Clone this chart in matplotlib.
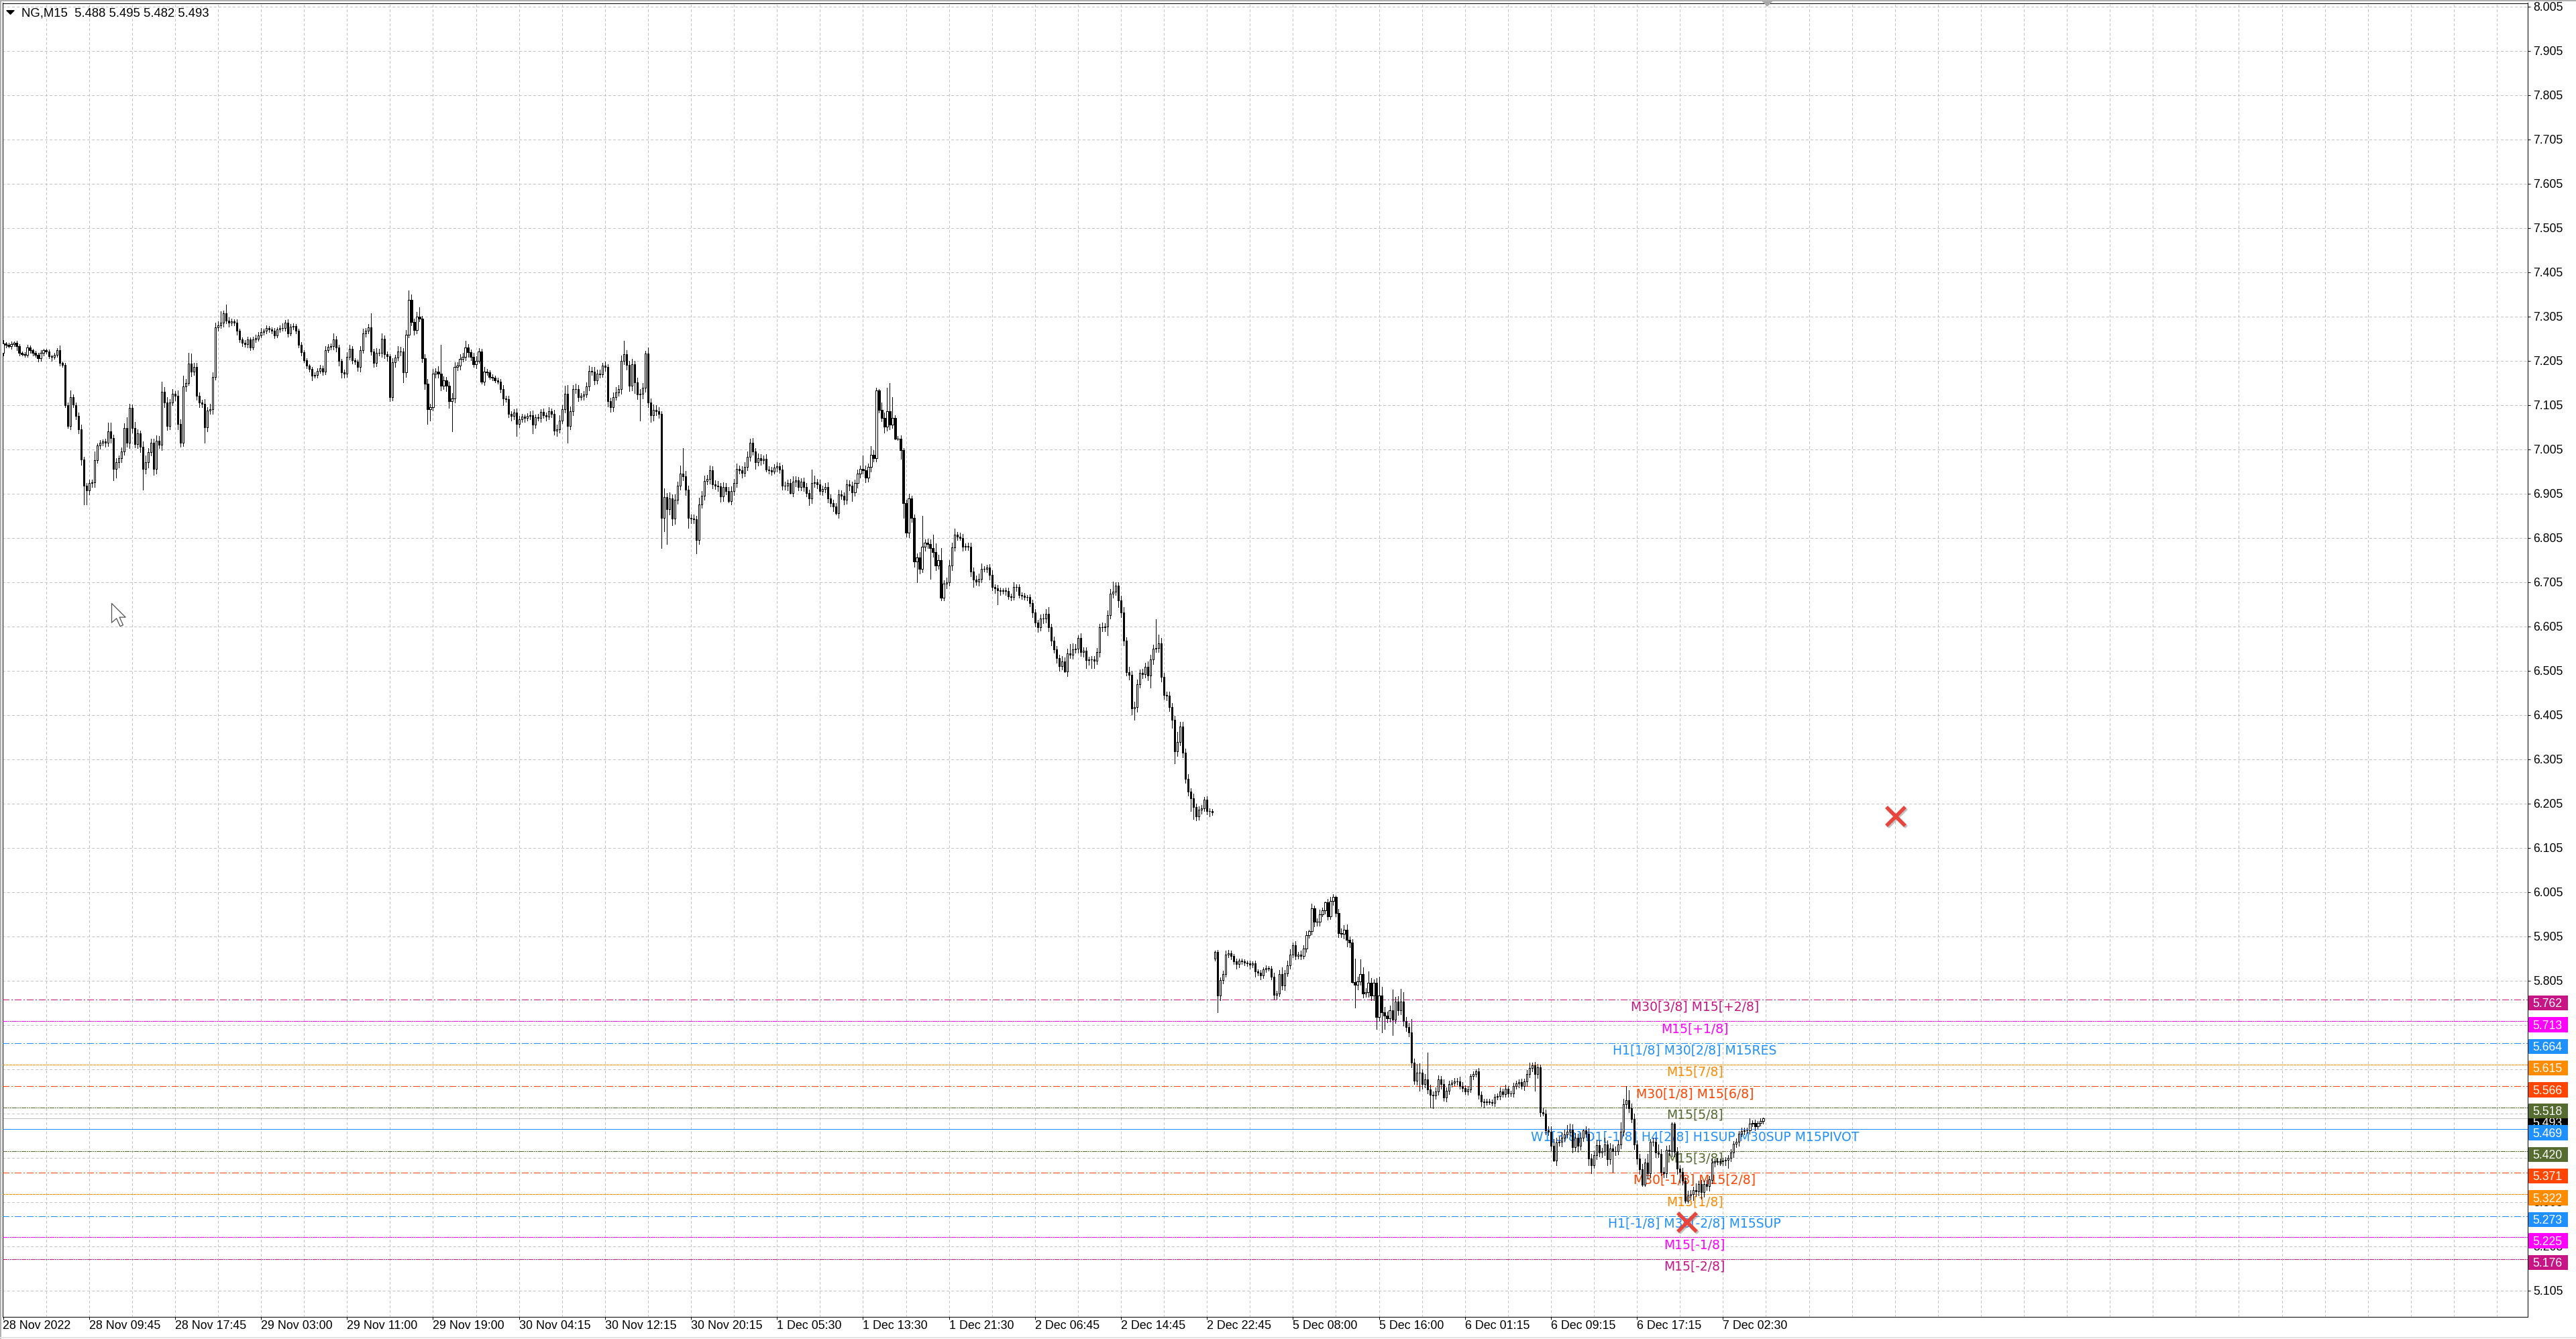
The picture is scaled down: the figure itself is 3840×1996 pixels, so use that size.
import numpy as np
import matplotlib
matplotlib.use("Agg")
import matplotlib.pyplot as plt
import matplotlib.transforms as mtransforms
from matplotlib.patches import Rectangle
from matplotlib.lines import Line2D
from matplotlib.path import Path

plt.rcParams['lines.scale_dashes'] = False
plt.rcParams['font.family'] = ['Liberation Sans', 'DejaVu Sans']

# ---------------- data (NG, M15) ----------------
header = "NG,M15  5.488 5.495 5.482 5.493"

# close of every 15 minute bar, in thousandths
close_mils = [
    7243, 7240, 7238, 7242, 7245, 7237, 7222, 7220, 7218, 7235,
    7228, 7222, 7218, 7210, 7222, 7228, 7225, 7215, 7213, 7218,
    7228, 7200, 7195, 7105, 7058, 7123, 7105, 7080, 7050, 6982,
    6923, 6912, 6928, 6930, 6980, 7014, 7020, 7022, 7020, 7045,
    7030, 6960, 6975, 6985, 7000, 7052, 7020, 7098, 7052, 7017,
    7040, 7010, 6960, 6975, 6998, 7020, 6960, 7024, 7015, 7135,
    7110, 7058, 7110, 7130, 7125, 7062, 7020, 7146, 7155, 7198,
    7180, 7190, 7125, 7110, 7108, 7055, 7092, 7095, 7168, 7280,
    7285, 7290, 7312, 7295, 7290, 7293, 7290, 7272, 7252, 7245,
    7242, 7252, 7235, 7253, 7255, 7262, 7270, 7272, 7278, 7275,
    7272, 7262, 7275, 7278, 7279, 7290, 7267, 7282, 7283, 7272,
    7240, 7224, 7206, 7193, 7186, 7171, 7172, 7182, 7188, 7180,
    7229, 7236, 7238, 7252, 7234, 7204, 7178, 7176, 7214, 7232,
    7206, 7202, 7190, 7229, 7267, 7272, 7280, 7226, 7200, 7223,
    7222, 7254, 7219, 7215, 7123, 7201, 7212, 7226, 7225, 7178,
    7264, 7342, 7292, 7274, 7305, 7300, 7211, 7153, 7095, 7100,
    7176, 7180, 7175, 7148, 7160, 7148, 7113, 7120, 7191, 7193,
    7209, 7214, 7234, 7224, 7214, 7196, 7205, 7225, 7158, 7180,
    7178, 7168, 7166, 7161, 7158, 7141, 7120, 7118, 7085, 7080,
    7087, 7062, 7072, 7078, 7075, 7080, 7082, 7060, 7077, 7075,
    7089, 7082, 7078, 7091, 7085, 7047, 7050, 7070, 7095, 7130,
    7057, 7091, 7141, 7140, 7123, 7125, 7128, 7146, 7182, 7180,
    7161, 7176, 7174, 7194, 7190, 7113, 7099, 7123, 7133, 7140,
    7205, 7219, 7195, 7148, 7197, 7156, 7128, 7130, 7143, 7221,
    7110, 7082, 7094, 7091, 7085, 6849, 6896, 6870, 6893, 6848,
    6891, 6922, 6950, 6944, 6913, 6850, 6848, 6846, 6800, 6880,
    6900, 6933, 6937, 6958, 6926, 6923, 6921, 6898, 6920, 6910,
    6888, 6911, 6928, 6960, 6958, 6951, 6965, 6988, 7020, 7000,
    6976, 6985, 6980, 6983, 6959, 6957, 6955, 6963, 6966, 6959,
    6923, 6922, 6928, 6906, 6931, 6934, 6920, 6931, 6920, 6906,
    6893, 6928, 6930, 6926, 6911, 6915, 6920, 6894, 6883, 6875,
    6860, 6902, 6900, 6890, 6926, 6922, 6908, 6928, 6949, 6960,
    6958, 6940, 6965, 6992, 6985, 7137, 7093, 7076, 7056, 7090,
    7060, 7076, 7029, 7028, 7002, 6883, 6816, 6893, 6849, 6751,
    6760, 6735, 6785, 6793, 6791, 6782, 6772, 6742, 6755, 6670,
    6701, 6705, 6742, 6783, 6812, 6808, 6805, 6785, 6786, 6785,
    6728, 6711, 6706, 6712, 6735, 6735, 6737, 6721, 6694, 6690,
    6686, 6684, 6686, 6684, 6672, 6671, 6694, 6693, 6676, 6674,
    6671, 6671, 6657, 6636, 6614, 6603, 6623, 6622, 6633, 6603,
    6572, 6553, 6533, 6515, 6526, 6503, 6544, 6541, 6553, 6555,
    6579, 6546, 6549, 6528, 6530, 6530, 6527, 6546, 6603, 6602,
    6604, 6630, 6679, 6683, 6697, 6664, 6636, 6572, 6501, 6495,
    6420, 6422, 6474, 6499, 6497, 6513, 6493, 6530, 6555, 6556,
    6567, 6490, 6449, 6448, 6423, 6393, 6322, 6344, 6379, 6319,
    6261, 6231, 6217, 6197, 6176, 6190, 6193, 6213, 6188, 6187,
    6185, 5869, 5771, 5806, 5819, 5864, 5866, 5860, 5848, 5842,
    5849, 5848, 5845, 5843, 5840, 5843, 5825, 5822, 5816, 5830,
    5833, 5832, 5814, 5772, 5775, 5819, 5793, 5821, 5839, 5863,
    5884, 5860, 5864, 5860, 5877, 5907, 5917, 5968, 5937, 5937,
    5955, 5964, 5981, 5950, 5984, 5993, 5958, 5912, 5910, 5920,
    5897, 5890, 5801, 5795, 5803, 5820, 5776, 5778, 5800, 5771,
    5800, 5722, 5771, 5733, 5725, 5720, 5738, 5717, 5758, 5737,
    5758, 5713, 5699, 5688, 5619, 5579, 5597, 5596, 5571, 5582,
    5559, 5546, 5545, 5554, 5581, 5571, 5541, 5556, 5571, 5574,
    5577, 5577, 5567, 5562, 5554, 5559, 5589, 5594, 5599, 5546,
    5531, 5530, 5532, 5530, 5529, 5542, 5544, 5555, 5548, 5561,
    5550, 5550, 5566, 5572, 5575, 5566, 5577, 5594, 5607, 5614,
    5594, 5609, 5508, 5505, 5466, 5464, 5431, 5398, 5439, 5440,
    5450, 5458, 5464, 5468, 5429, 5449, 5432, 5450, 5466, 5459,
    5403, 5388, 5411, 5433, 5416, 5419, 5434, 5401, 5426, 5420,
    5420, 5434, 5464, 5525, 5535, 5517, 5492, 5434, 5403, 5378,
    5343, 5393, 5370, 5441, 5440, 5416, 5414, 5373, 5370, 5423,
    5420, 5481, 5418, 5380, 5372, 5353, 5307, 5320, 5323, 5331,
    5328, 5345, 5327, 5345, 5340, 5355, 5393, 5397, 5395, 5396,
    5398, 5400, 5404, 5416, 5436, 5440, 5459, 5465, 5466, 5467,
    5482, 5483, 5475, 5483, 5488, 5493,
]

# wick above / below the body of every bar, in thousandths
upper_wick = [
    8, 4, 5, 6, 3, 4, 5, 3, 4, 6,
    4, 3, 5, 4, 6, 3, 4, 5, 3, 4,
    5, 11, 3, 4, 6, 15, 5, 6, 8, 10,
    6, 5, 8, 6, 19, 4, 6, 5, 7, 20,
    20, 8, 10, 6, 9, 12, 25, 10, 8, 14,
    10, 6, 12, 15, 10, 8, 9, 12, 10, 23,
    10, 12, 8, 10, 6, 12, 10, 25, 8, 24,
    23, 10, 10, 8, 6, 10, 8, 12, 10, 10,
    8, 27, 6, 20, 8, 6, 5, 8, 5, 6,
    6, 7, 5, 6, 8, 7, 8, 5, 6, 5,
    5, 6, 5, 7, 10, 6, 8, 5, 6, 4,
    5, 6, 4, 5, 4, 5, 6, 5, 7, 5,
    8, 6, 5, 15, 8, 6, 5, 6, 10, 8,
    6, 5, 6, 8, 10, 6, 8, 32, 6, 10,
    8, 12, 8, 6, 5, 10, 6, 12, 10, 8,
    10, 21, 13, 8, 10, 20, 6, 8, 10, 8,
    10, 8, 12, 66, 10, 8, 10, 12, 10, 8,
    10, 8, 15, 8, 6, 8, 10, 8, 6, 10,
    6, 5, 6, 5, 6, 6, 8, 6, 8, 6,
    8, 10, 8, 6, 5, 6, 8, 10, 6, 8,
    6, 8, 6, 8, 6, 8, 10, 12, 10, 18,
    20, 10, 8, 12, 10, 6, 8, 10, 12, 8,
    10, 8, 8, 6, 8, 7, 8, 10, 12, 10,
    12, 30, 10, 10, 12, 8, 10, 10, 12, 6,
    13, 10, 12, 10, 8, 5, 20, 10, 15, 10,
    12, 10, 18, 57, 12, 10, 8, 10, 8, 15,
    10, 12, 10, 10, 8, 8, 10, 8, 10, 8,
    10, 10, 10, 13, 8, 8, 10, 12, 8, 10,
    8, 10, 8, 8, 10, 8, 8, 8, 10, 8,
    10, 8, 8, 10, 12, 10, 8, 8, 10, 8,
    8, 31, 15, 8, 10, 8, 8, 10, 8, 8,
    8, 12, 10, 8, 10, 8, 10, 8, 10, 8,
    30, 10, 8, 20, 10, 7, 3, 17, 12, 54,
    65, 47, 6, 5, 8, 6, 8, 11, 6, 8,
    10, 12, 70, 8, 10, 10, 30, 20, 12, 26,
    8, 10, 12, 10, 14, 6, 8, 8, 6, 8,
    8, 10, 8, 12, 12, 6, 6, 8, 10, 6,
    8, 6, 5, 6, 8, 6, 10, 6, 6, 5,
    6, 5, 6, 8, 8, 6, 8, 10, 10, 15,
    8, 10, 8, 8, 12, 8, 10, 21, 14, 10,
    5, 10, 8, 8, 6, 8, 8, 10, 8, 10,
    8, 10, 10, 23, 8, 8, 10, 12, 8, 12,
    10, 12, 10, 8, 10, 10, 12, 10, 8, 65,
    19, 12, 10, 8, 10, 8, 10, 22, 10, 10,
    10, 10, 8, 10, 8, 8, 8, 6, 8, 6,
    5, 3, 5, 6, 8, 8, 8, 6, 5, 6,
    5, 6, 5, 5, 6, 5, 6, 5, 6, 5,
    6, 5, 6, 8, 6, 10, 15, 8, 10, 12,
    6, 10, 6, 8, 8, 10, 2, 10, 6, 8,
    10, 6, 2, 8, 9, 6, 3, 8, 10, 10,
    11, 8, 8, 53, 10, 32, 15, 10, 26, 10,
    8, 10, 43, 20, 12, 10, 10, 46, 10, 12,
    28, 20, 10, 10, 30, 10, 20, 21, 8, 12,
    60, 10, 8, 10, 10, 8, 10, 8, 8, 6,
    7, 8, 10, 8, 6, 8, 5, 6, 5, 8,
    8, 6, 6, 5, 6, 6, 5, 8, 6, 8,
    6, 6, 8, 6, 6, 8, 6, 8, 13, 5,
    7, 8, 6, 8, 8, 10, 12, 15, 10, 12,
    12, 10, 15, 14, 12, 12, 10, 12, 3, 10,
    12, 10, 10, 12, 10, 8, 15, 10, 12, 8,
    10, 10, 20, 12, 32, 22, 10, 12, 10, 10,
    12, 10, 20, 6, 8, 10, 18, 10, 10, 8,
    10, 3, 3, 10, 8, 10, 8, 10, 8, 8,
    15, 8, 10, 8, 10, 8, 10, 6, 8, 6,
    6, 6, 6, 8, 6, 8, 6, 8, 6, 6,
    11, 6, 8, 5, 5, 2,
]
lower_wick = [
    6, 5, 4, 6, 5, 8, 6, 4, 5, 4,
    5, 6, 4, 8, 5, 6, 4, 5, 8, 4,
    5, 6, 5, 5, 6, 8, 6, 8, 10, 12,
    43, 32, 10, 8, 10, 6, 8, 6, 10, 8,
    10, 25, 20, 12, 10, 8, 10, 12, 10, 8,
    10, 12, 47, 10, 12, 8, 14, 10, 8, 12,
    10, 10, 8, 6, 10, 12, 10, 8, 10, 6,
    10, 8, 8, 10, 8, 36, 10, 8, 10, 6,
    8, 6, 8, 6, 8, 5, 6, 8, 6, 8,
    6, 8, 6, 5, 6, 6, 5, 6, 5, 6,
    5, 6, 5, 6, 5, 6, 8, 5, 6, 5,
    6, 8, 5, 6, 6, 10, 5, 6, 5, 8,
    6, 5, 6, 8, 8, 10, 12, 10, 8, 6,
    8, 6, 8, 10, 6, 8, 6, 8, 10, 8,
    6, 8, 8, 10, 10, 8, 10, 6, 8, 22,
    10, 6, 8, 10, 8, 6, 10, 12, 33, 25,
    8, 10, 8, 10, 8, 12, 15, 68, 10, 8,
    8, 6, 8, 10, 8, 6, 8, 6, 5, 8,
    6, 5, 6, 5, 6, 8, 15, 6, 8, 10,
    8, 27, 8, 6, 8, 6, 8, 20, 8, 6,
    8, 6, 8, 6, 8, 10, 12, 8, 6, 8,
    38, 8, 10, 8, 10, 6, 8, 6, 8, 8,
    10, 8, 8, 6, 8, 12, 10, 8, 6, 8,
    10, 8, 10, 12, 10, 25, 10, 58, 10, 8,
    10, 15, 12, 10, 10, 67, 29, 80, 12, 15,
    12, 10, 8, 10, 12, 23, 10, 8, 31, 10,
    8, 10, 8, 10, 10, 8, 10, 12, 10, 8,
    4, 8, 10, 8, 8, 10, 8, 8, 10, 8,
    15, 8, 10, 8, 5, 8, 8, 6, 8, 8,
    10, 8, 10, 2, 8, 10, 8, 8, 10, 8,
    15, 10, 8, 10, 8, 10, 8, 10, 8, 10,
    2, 10, 8, 10, 8, 10, 20, 8, 10, 8,
    8, 10, 8, 10, 8, 8, 6, 8, 14, 10,
    10, 8, 2, 3, 19, 33, 8, 10, 8, 12,
    47, 11, 8, 10, 10, 70, 10, 10, 8, 7,
    7, 10, 8, 10, 8, 8, 6, 10, 8, 8,
    10, 18, 8, 10, 8, 6, 8, 10, 8, 10,
    31, 8, 6, 8, 5, 8, 6, 8, 6, 8,
    6, 8, 8, 10, 10, 11, 8, 10, 8, 10,
    10, 8, 10, 10, 8, 2, 11, 8, 10, 8,
    10, 8, 10, 18, 10, 20, 17, 8, 10, 8,
    8, 20, 8, 10, 8, 16, 10, 10, 8, 10,
    14, 27, 10, 8, 10, 8, 10, 26, 10, 8,
    10, 10, 8, 10, 10, 17, 27, 10, 8, 10,
    10, 8, 30, 27, 10, 8, 8, 6, 8, 12,
    6, 5, 38, 10, 8, 6, 6, 8, 6, 10,
    8, 6, 6, 5, 8, 6, 11, 6, 8, 6,
    6, 5, 6, 10, 8, 6, 8, 10, 6, 8,
    6, 8, 6, 8, 6, 8, 6, 8, 10, 8,
    8, 6, 8, 8, 6, 8, 8, 10, 8, 10,
    15, 10, 2, 52, 10, 8, 10, 8, 10, 10,
    10, 27, 8, 45, 30, 10, 8, 35, 8, 10,
    8, 10, 8, 10, 10, 8, 10, 40, 10, 8,
    10, 28, 29, 8, 8, 10, 8, 10, 8, 6,
    6, 8, 6, 8, 6, 8, 6, 8, 6, 8,
    10, 12, 6, 5, 6, 8, 6, 8, 6, 6,
    8, 6, 8, 6, 8, 6, 8, 10, 8, 8,
    38, 10, 10, 6, 8, 8, 10, 1, 10, 8,
    10, 8, 8, 10, 12, 10, 14, 10, 8, 8,
    15, 18, 7, 10, 8, 10, 8, 13, 10, 47,
    10, 8, 8, 10, 8, 10, 8, 10, 12, 10,
    3, 3, 12, 10, 8, 10, 8, 8, 10, 10,
    10, 12, 10, 12, 24, 10, 5, 5, 10, 14,
    10, 8, 15, 10, 8, 10, 8, 8, 6, 8,
    8, 10, 19, 8, 10, 8, 8, 6, 8, 6,
    8, 6, 8, 6, 6, 6,
]

# opens that do not sit on the previous close (first bar, Monday gap)
gap_opens = {0: 7222, 451: 5854}

time_labels = ["28 Nov 2022", "28 Nov 09:45", "28 Nov 17:45", "29 Nov 03:00",
               "29 Nov 11:00", "29 Nov 19:00", "30 Nov 04:15", "30 Nov 12:15",
               "30 Nov 20:15", "1 Dec 05:30", "1 Dec 13:30", "1 Dec 21:30",
               "2 Dec 06:45", "2 Dec 14:45", "2 Dec 22:45", "5 Dec 08:00",
               "5 Dec 16:00", "6 Dec 01:15", "6 Dec 09:15", "6 Dec 17:15",
               "7 Dec 02:30"]

levels = [5.762, 5.713, 5.664, 5.615, 5.566, 5.518, 5.469,
          5.420, 5.371, 5.322, 5.273, 5.225, 5.176]
level_names = ["M30[3/8] M15[+2/8]", "M15[+1/8]", "H1[1/8] M30[2/8] M15RES",
               "M15[7/8]", "M30[1/8] M15[6/8]", "M15[5/8]",
               "W1[3/8] D1[-1/8] H4[2/8] H1SUP M30SUP M15PIVOT",
               "M15[3/8]", "M30[-1/8] M15[2/8]", "M15[1/8]",
               "H1[-1/8] M30[-2/8] M15SUP", "M15[-1/8]", "M15[-2/8]"]
level_colors = ["#C71585", "#FF00FF", "#1E90FF", "#FF8C00", "#FF4500", "#556B2F",
                "#1E90FF", "#556B2F", "#FF4500", "#FF8C00", "#1E90FF", "#FF00FF",
                "#C71585"]
level_kinds = ["dashdot", "dashdotdot", "dashdot", "dash", "dashdot", "dashdotdot",
               "solid", "dashdotdot", "dashdot", "dash", "dashdot", "dashdotdot",
               "dashdotdot"]
bid_price = 5.493

cross_bars = [626.8, 704.3]
cross_prices = [5.259, 6.176]
cursor_bar, cursor_price = 40.4, 6.657

assert len(close_mils) == len(upper_wick) == len(lower_wick), \
    (len(close_mils), len(upper_wick), len(lower_wick))

# ---------------- layout (screen pixels of the terminal window) ----------------
W, H, DPI = 3840, 1996, 100
PX = 72.0 / DPI
ax_l, ax_r, ax_t, ax_b = 3.5, 3767.5, 4.5, 1962.5
bar_px, bar0_px = 4.006, 4.5
price_px, ref_price, ref_y = 660.0, 8.005, 9.5

fig = plt.figure(figsize=(W / DPI, H / DPI), dpi=DPI, facecolor="white")
ax = fig.add_axes([ax_l / W, 1 - ax_b / H, (ax_r - ax_l) / W, (ax_b - ax_t) / H])
x_lo = (ax_l - bar0_px) / bar_px
x_hi = (ax_r - bar0_px) / bar_px
y_hi = ref_price + (ref_y - ax_t) / price_px
y_lo = ref_price - (ax_b - ref_y) / price_px

# candles
c = np.array(close_mils) / 1000.0
o = np.r_[np.nan, c[:-1]]
for k, v in gap_opens.items():
    o[k] = v / 1000.0
hi = np.maximum(o, c) + np.array(upper_wick) / 1000.0
lo = np.minimum(o, c) - np.array(lower_wick) / 1000.0
x = np.arange(len(c))

# grid
price_ticks = np.round(8.005 - 0.1 * np.arange(30), 3)
grid_ls = (0, (3 * PX, 3 * PX))
for p in price_ticks:
    ax.axhline(p, color="#C4C4C4", lw=PX, ls=grid_ls, zorder=1, antialiased=False)
for b in range(16, int(x_hi) + 1, 16):
    ax.axvline(b, color="#C4C4C4", lw=PX, ls=grid_ls, zorder=1, antialiased=False)

# bid line and level lines
ax.axhline(bid_price, color="#C0C0C0", lw=PX, zorder=2, antialiased=False)
dash_map = {
    "dashdot": (0, (10 * PX, 3 * PX, 2 * PX, 3 * PX)),
    "dashdotdot": (0, (6 * PX, 2 * PX, 2 * PX, 2 * PX, 2 * PX, 2 * PX)),
    "dash": (0, (3 * PX, 2 * PX)),
    "solid": "-",
}
label_bar = 629.5
for lv, name, col, kind in zip(levels, level_names, level_colors, level_kinds):
    ax.axhline(lv, color=col, lw=PX, ls=dash_map[kind], zorder=3, antialiased=False)
    ax.text(label_bar, lv - 11.4 / price_px, name, color=col, fontsize=13.5,
            family="DejaVu Sans", ha="center", va="center", zorder=4)

ax.vlines(x, lo, hi, colors="black", lw=PX, zorder=5, antialiased=False)
up = c >= o
ax.bar(x[up], (c - o)[up], bottom=o[up], width=0.55, facecolor="white",
       edgecolor="black", linewidth=PX, zorder=6, antialiased=False)
ax.bar(x[~up], (c - o)[~up], bottom=o[~up], width=0.55, facecolor="black",
       edgecolor="black", linewidth=PX, zorder=6, antialiased=False)

# red crosses with a soft shadow
shadow = mtransforms.offset_copy(ax.transData, fig=fig, x=2, y=-2, units="dots")
ax.plot(cross_bars, cross_prices, ls="none", marker="x", ms=28 * PX, mew=5.5 * PX,
        color="#7a7a7a", alpha=0.45, transform=shadow, zorder=11)
ax.plot(cross_bars, cross_prices, ls="none", marker="x", ms=28 * PX, mew=5.5 * PX,
        color="#E8453C", zorder=12)

# mouse pointer
cursor = Path([(0, 0), (0, -16), (4, -12.5), (7, -19), (9.5, -18), (6.5, -11.5),
               (11.5, -11.5), (0, 0)], closed=True)
ax.plot([cursor_bar], [cursor_price], ls="none", marker=cursor, ms=68 * PX,
        mfc="white", mec="#505050", mew=0.9, zorder=12)

# axes, ticks
ax.set_xlim(x_lo, x_hi)
ax.set_ylim(y_lo, y_hi)
ax.yaxis.tick_right()
ax.set_yticks(price_ticks)
ax.set_yticklabels([f"{p:.3f}" for p in price_ticks])
ax.set_xticks(np.arange(len(time_labels)) * 32)
ax.set_xticklabels(time_labels, ha="left")
ax.tick_params(axis="y", length=4 * PX, width=PX, pad=4.7 * PX, labelsize=12.7)
ax.tick_params(axis="x", length=4 * PX, width=PX, pad=1.7 * PX, labelsize=12.9)
for s in ax.spines.values():
    s.set_linewidth(PX)
    s.set_color("black")

# coloured price tags on the right scale
tag = mtransforms.blended_transform_factory(fig.transFigure, ax.transData)


def price_tag(p, color, z):
    ax.add_patch(Rectangle((3769 / W, p - 16.5 / price_px), 59 / W, 22.5 / price_px,
                           transform=tag, facecolor=color, edgecolor="none",
                           clip_on=False, zorder=z))
    ax.text(3775.5 / W, p - 5 / price_px, f"{p:.3f}", transform=tag, color="white",
            fontsize=12.7, ha="left", va="center_baseline", clip_on=False, zorder=z + 0.1)


price_tag(bid_price, "black", 9)
for lv, col in zip(levels, level_colors):
    price_tag(lv, col, 10)
ax.set_xlim(x_lo, x_hi)
ax.set_ylim(y_lo, y_hi)

# header and small markers
tri = Path([(-1, 0.5), (1, 0.5), (0, -0.5), (-1, 0.5)], closed=True)
fig.add_artist(Line2D([14.5 / W], [1 - 18 / H], marker=tri, ms=11 * PX, color="black",
                      ls="none", transform=fig.transFigure))
fig.text(32 / W, 1 - 19.7 / H, header, fontsize=13.3, ha="left", va="center")
ax.plot([len(c) + 0.3], [1.0], transform=ax.get_xaxis_transform(), marker=tri,
        ms=14 * PX, color="#A8A8A8", ls="none", clip_on=False, zorder=8)

# window frame bits
fig.add_artist(Rectangle((0, 1 - 2 / H), 1, 2 / H, transform=fig.transFigure,
                         facecolor="#B0B0B0", edgecolor="none"))
fig.add_artist(Rectangle((0, 0), 1.5 / W, 1, transform=fig.transFigure,
                         facecolor="#B0B0B0", edgecolor="none"))
fig.add_artist(Rectangle((0, 1 / H), 1, 2 / H, transform=fig.transFigure,
                         facecolor="#E2E2E2", edgecolor="none"))

fig.savefig("out.png", dpi=DPI, facecolor="white")
